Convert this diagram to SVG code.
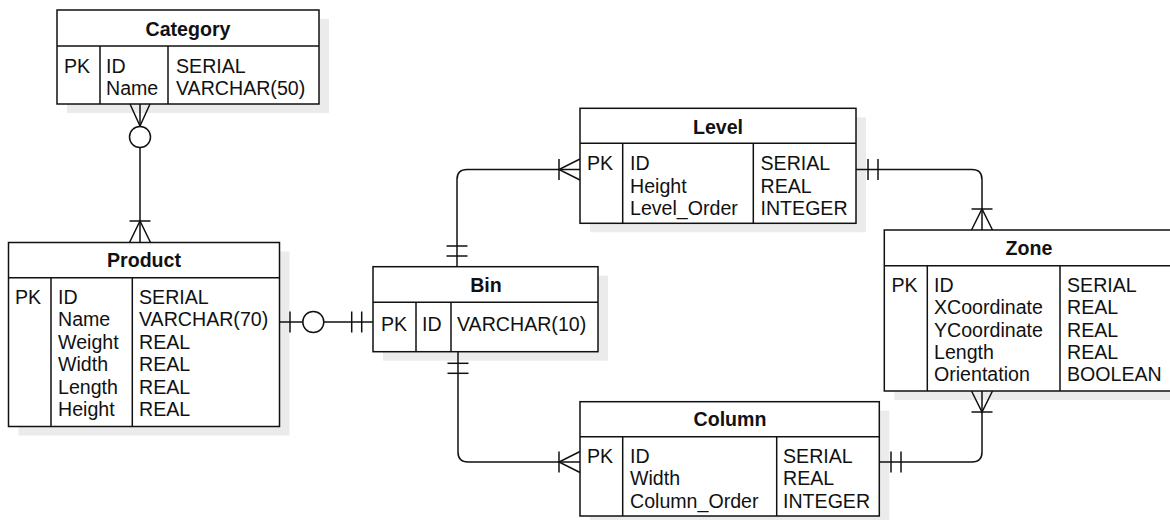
<svg xmlns="http://www.w3.org/2000/svg" width="1170" height="520" viewBox="0 0 1170 520">
<style>
.shadow{fill:#ebebeb;stroke:none}
.box{fill:#fff;stroke:#111;stroke-width:1.5}
.ln{fill:none;stroke:#111;stroke-width:1.5}
.circ{fill:#fff;stroke:#111;stroke-width:1.5}
text{font-family:"Liberation Sans",Arial,sans-serif;font-size:19.6px;fill:#111}
.title{font-weight:bold;text-anchor:middle}
</style>
<rect width="1170" height="520" fill="#fff"/>

<g id="shadows">
<rect class="shadow" x="67" y="19" width="262" height="94"/>
<rect class="shadow" x="18.5" y="251.5" width="271" height="184"/>
<rect class="shadow" x="383" y="275.7" width="225" height="85"/>
<rect class="shadow" x="590" y="117.3" width="276" height="115"/>
<rect class="shadow" x="590" y="410.7" width="299.3" height="114.3"/>
<rect class="shadow" x="894.3" y="239" width="290" height="161"/>
</g>

<g id="Category">
<rect class="box" x="57" y="10" width="262" height="94"/>
<line class="ln" x1="57" y1="46" x2="319" y2="46"/>
<line class="ln" x1="100" y1="46" x2="100" y2="104"/>
<line class="ln" x1="168" y1="46" x2="168" y2="104"/>
<text class="title" x="188" y="35.8">Category</text>
<text x="64" y="72.8">PK</text>
<text x="106" y="72.8">ID</text>
<text x="106" y="95.2">Name</text>
<text x="176" y="72.8">SERIAL</text>
<text x="176" y="95.2">VARCHAR(50)</text>
</g>

<g id="Product">
<rect class="box" x="8.5" y="242.5" width="271" height="184"/>
<line class="ln" x1="8.5" y1="277.7" x2="279.5" y2="277.7"/>
<line class="ln" x1="51" y1="277.7" x2="51" y2="426.5"/>
<line class="ln" x1="132.3" y1="277.7" x2="132.3" y2="426.5"/>
<text class="title" x="144" y="266.8">Product</text>
<text x="15" y="303.8">PK</text>
<text x="58" y="303.8">ID</text>
<text x="58" y="326.3">Name</text>
<text x="58" y="348.8">Weight</text>
<text x="58" y="371.3">Width</text>
<text x="58" y="393.8">Length</text>
<text x="58" y="416.3">Height</text>
<text x="139" y="303.8">SERIAL</text>
<text x="139" y="326.3">VARCHAR(70)</text>
<text x="139" y="348.8">REAL</text>
<text x="139" y="371.3">REAL</text>
<text x="139" y="393.8">REAL</text>
<text x="139" y="416.3">REAL</text>
</g>

<g id="Bin">
<rect class="box" x="373" y="266.7" width="225" height="85"/>
<line class="ln" x1="373" y1="302.3" x2="598" y2="302.3"/>
<line class="ln" x1="416" y1="302.3" x2="416" y2="351.7"/>
<line class="ln" x1="451" y1="302.3" x2="451" y2="351.7"/>
<text class="title" x="486" y="291.8">Bin</text>
<text x="381" y="330.8">PK</text>
<text x="422" y="330.8">ID</text>
<text x="457" y="330.8">VARCHAR(10)</text>
</g>

<g id="Level">
<rect class="box" x="580" y="108.3" width="276" height="115"/>
<line class="ln" x1="580" y1="143.3" x2="856" y2="143.3"/>
<line class="ln" x1="622.7" y1="143.3" x2="622.7" y2="223.3"/>
<line class="ln" x1="753.3" y1="143.3" x2="753.3" y2="223.3"/>
<text class="title" x="718" y="133.5">Level</text>
<text x="587" y="170.2">PK</text>
<text x="630" y="170.2">ID</text>
<text x="630" y="192.6">Height</text>
<text x="630" y="215">Level_Order</text>
<text x="760.5" y="170.2">SERIAL</text>
<text x="760.5" y="192.6">REAL</text>
<text x="760.5" y="215">INTEGER</text>
</g>

<g id="Column">
<rect class="box" x="580" y="401.7" width="299.3" height="114.3"/>
<line class="ln" x1="580" y1="436.7" x2="879.3" y2="436.7"/>
<line class="ln" x1="622.7" y1="436.7" x2="622.7" y2="516"/>
<line class="ln" x1="776.7" y1="436.7" x2="776.7" y2="516"/>
<text class="title" x="730" y="426">Column</text>
<text x="587" y="462.8">PK</text>
<text x="630" y="462.8">ID</text>
<text x="630" y="485.2">Width</text>
<text x="630" y="507.6">Column_Order</text>
<text x="783" y="462.8">SERIAL</text>
<text x="783" y="485.2">REAL</text>
<text x="783" y="507.6">INTEGER</text>
</g>

<g id="Zone">
<rect class="box" x="884.3" y="230" width="290" height="161"/>
<line class="ln" x1="884.3" y1="265.7" x2="1174.3" y2="265.7"/>
<line class="ln" x1="927.3" y1="265.7" x2="927.3" y2="391"/>
<line class="ln" x1="1060" y1="265.7" x2="1060" y2="391"/>
<text class="title" x="1029" y="255">Zone</text>
<text x="891.5" y="291.8">PK</text>
<text x="934" y="291.8">ID</text>
<text x="934" y="314.2">XCoordinate</text>
<text x="934" y="336.6">YCoordinate</text>
<text x="934" y="359">Length</text>
<text x="934" y="381.4">Orientation</text>
<text x="1067" y="291.8">SERIAL</text>
<text x="1067" y="314.2">REAL</text>
<text x="1067" y="336.6">REAL</text>
<text x="1067" y="359">REAL</text>
<text x="1067" y="381.4">BOOLEAN</text>
</g>

<g id="connectors">
<!-- Category - Product -->
<line class="ln" x1="140" y1="104" x2="140" y2="242.5"/>
<path class="ln" d="M130,104 L140,126 L150,104"/>
<circle class="circ" cx="140" cy="137" r="10.5"/>
<line class="ln" x1="129.5" y1="221" x2="150.5" y2="221"/>
<path class="ln" d="M129.5,242.5 L140,221 L150.5,242.5"/>

<!-- Product - Bin -->
<line class="ln" x1="279.5" y1="322" x2="373" y2="322"/>
<line class="ln" x1="290" y1="311.5" x2="290" y2="332.5"/>
<circle class="circ" cx="313.3" cy="322" r="10.5"/>
<line class="ln" x1="351.7" y1="311.5" x2="351.7" y2="332.5"/>
<line class="ln" x1="361.7" y1="311.5" x2="361.7" y2="332.5"/>

<!-- Bin - Level -->
<path class="ln" d="M457,266.7 V179.5 Q457,169.5 467,169.5 H580"/>
<line class="ln" x1="446.5" y1="246" x2="467.5" y2="246"/>
<line class="ln" x1="446.5" y1="256" x2="467.5" y2="256"/>
<line class="ln" x1="559" y1="159" x2="559" y2="180"/>
<path class="ln" d="M580,159 L559,169.5 L580,180"/>

<!-- Level - Zone -->
<path class="ln" d="M856,169.5 H972 Q982,169.5 982,179.5 V230"/>
<line class="ln" x1="868" y1="159" x2="868" y2="180"/>
<line class="ln" x1="878" y1="159" x2="878" y2="180"/>
<line class="ln" x1="971.5" y1="209" x2="992.5" y2="209"/>
<path class="ln" d="M971.5,230 L982,209 L992.5,230"/>

<!-- Zone - Column -->
<path class="ln" d="M982,391 V452 Q982,462 972,462 H879.3"/>
<path class="ln" d="M971.5,391 L982,412 L992.5,391"/>
<line class="ln" x1="971.5" y1="412" x2="992.5" y2="412"/>
<line class="ln" x1="891" y1="451.5" x2="891" y2="472.5"/>
<line class="ln" x1="901" y1="451.5" x2="901" y2="472.5"/>

<!-- Bin - Column -->
<path class="ln" d="M458,351.7 V452 Q458,462 468,462 H580"/>
<line class="ln" x1="447.5" y1="363.3" x2="468.5" y2="363.3"/>
<line class="ln" x1="447.5" y1="373.3" x2="468.5" y2="373.3"/>
<line class="ln" x1="559" y1="451.5" x2="559" y2="472.5"/>
<path class="ln" d="M580,451.5 L559,462 L580,472.5"/>
</g>
</svg>
